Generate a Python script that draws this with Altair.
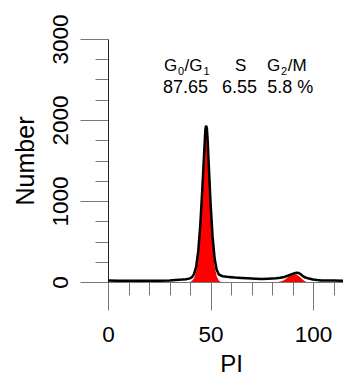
import altair as alt
import pandas as pd

# Measured histogram (black outline)
pi_line = [0, 5, 10, 15, 20, 25, 30, 33, 36, 38, 40, 41, 42, 43, 44, 45, 46, 47, 47.5, 47.8,
           48.2, 48.6, 49, 49.5, 50, 51, 52, 53, 54, 55, 56, 58, 60, 62, 65, 68, 70, 72, 75,
           78, 80, 82, 84, 86, 88, 90, 91, 92, 93, 94, 95, 96, 98, 100, 102, 104, 106, 110,
           115, 119]
count_line = [18, 15, 14, 14, 15, 16, 20, 25, 30, 35, 45, 60, 100, 190, 380, 700, 1150, 1650,
              1880, 1930, 1900, 1750, 1520, 1250, 980, 560, 290, 150, 95, 80, 72, 65, 60, 55,
              50, 45, 42, 40, 38, 40, 42, 45, 52, 62, 80, 100, 108, 115, 112, 95, 75, 58, 42,
              32, 25, 20, 18, 17, 16, 16]

# G0/G1 model fit (red)
g1_pi = [40, 41, 42, 43, 44, 45, 46, 47, 47.5, 47.8, 48.2, 48.6, 49, 49.5, 50, 51, 52, 53, 54, 55]
g1_count = [0, 15, 45, 130, 320, 640, 1080, 1560, 1760, 1800, 1770, 1620, 1400, 1130, 860,
            450, 190, 70, 20, 0]

# G2/M model fit (red)
g2_pi = [83, 84, 85, 86, 87, 88, 89, 90, 91, 92, 93, 94, 95, 96, 97]
g2_count = [0, 5, 12, 25, 42, 62, 80, 92, 95, 90, 75, 52, 28, 10, 0]

# Annotation: phase names (with subscripts) and percentages
head_text = ["G", "/G", "S", "G", "/M"]
head_pi = [27.31, 37.35, 61.93, 77.54, 87.68]
head_count = [2609, 2609, 2609, 2609, 2609]
sub_text = ["0", "1", "2"]
sub_pi = [34.14, 46.57, 84.37]
sub_count = [2556, 2556, 2556]
pct_text = ["87.65", "6.55", "5.8 %"]
pct_pi = [26.8, 55.6, 77.6]
pct_count = [2337, 2337, 2337]

x_ticks = list(range(0, 120, 10))
y_ticks = list(range(0, 3001, 250))

FONT = "Liberation Sans"

line_df = pd.DataFrame({"PI": pi_line, "Number": count_line})
g1_df = pd.DataFrame({"PI": g1_pi, "Number": g1_count})
g2_df = pd.DataFrame({"PI": g2_pi, "Number": g2_count})
head_df = pd.DataFrame({"PI": head_pi, "Number": head_count, "t": head_text})
pct_df = pd.DataFrame({"PI": pct_pi, "Number": pct_count, "t": pct_text})
sub_df = pd.DataFrame({"PI": sub_pi, "Number": sub_count, "t": sub_text})

xs = alt.Scale(domain=[0, 114.6], nice=False, zero=False)
ys = alt.Scale(domain=[0, 3000], nice=False)

x_axis = alt.Axis(
    values=x_ticks,
    labelExpr="datum.value % 50 === 0 ? datum.label : ''",
    tickSize={"condition": {"test": "datum.value % 50 === 0", "value": 28}, "value": 13},
    tickColor="#777", tickWidth=1, domainColor="#777", domainWidth=1,
    labelFont=FONT, labelFontSize=22.5, labelColor="black", labelPadding=13,
    labelBaseline="top", labelAlign="center", labelFlush=False, labelOverlap=False,
    grid=False, title="PI", titleFont=FONT, titleFontSize=24, titleFontWeight="normal",
    titleColor="black", titleX=123, titleY=89, titleBaseline="alphabetic", titleAlign="center",
)
y_axis = alt.Axis(
    values=y_ticks,
    labelExpr="datum.value % 1000 === 0 ? datum.label : ''",
    format="d",
    tickSize={"condition": {"test": "datum.value % 1000 === 0", "value": 28}, "value": 13},
    tickColor="#777", tickWidth=1, domainColor="#222", domainWidth=1,
    labelFont=FONT, labelFontSize=22.5, labelColor="black", labelPadding=12.5,
    labelAngle=270, labelAlign="center", labelBaseline="alphabetic", labelOverlap=False,
    grid=False, title="Number", titleFont=FONT, titleFontSize=25, titleFontWeight="normal",
    titleColor="black", titleX=-75, titleY=121.5, titleAngle=270, titleBaseline="alphabetic",
    titleAlign="center",
)

X = alt.X("PI:Q", scale=xs, axis=x_axis)
Y = alt.Y("Number:Q", scale=ys, axis=y_axis)

g1 = alt.Chart(g1_df).mark_area(color="#ff0000", clip=True).encode(x=X, y=Y)
g2 = alt.Chart(g2_df).mark_area(color="#ff0000", clip=True).encode(x=X, y=Y)
line = alt.Chart(line_df).mark_line(color="black", strokeWidth=2.5, clip=True).encode(x=X, y=Y)
head = alt.Chart(head_df).mark_text(
    font=FONT, fontSize=17, align="left", baseline="alphabetic", color="black"
).encode(x=X, y=Y, text="t:N")
pct = alt.Chart(pct_df).mark_text(
    font=FONT, fontSize=18, align="left", baseline="alphabetic", color="black"
).encode(x=X, y=Y, text="t:N")
sub = alt.Chart(sub_df).mark_text(
    font=FONT, fontSize=11, align="left", baseline="alphabetic", color="black"
).encode(x=X, y=Y, text="t:N")

chart = alt.layer(g1, g2, line, head, pct, sub).properties(
    width=235, height=243,
    padding={"left": 100, "top": 31, "right": 0, "bottom": 95},
    autosize=alt.AutoSizeParams(type="none"),
    background="white",
).configure_view(stroke=None)

chart.save("out.html", embed_options={"renderer": "svg", "actions": False})
